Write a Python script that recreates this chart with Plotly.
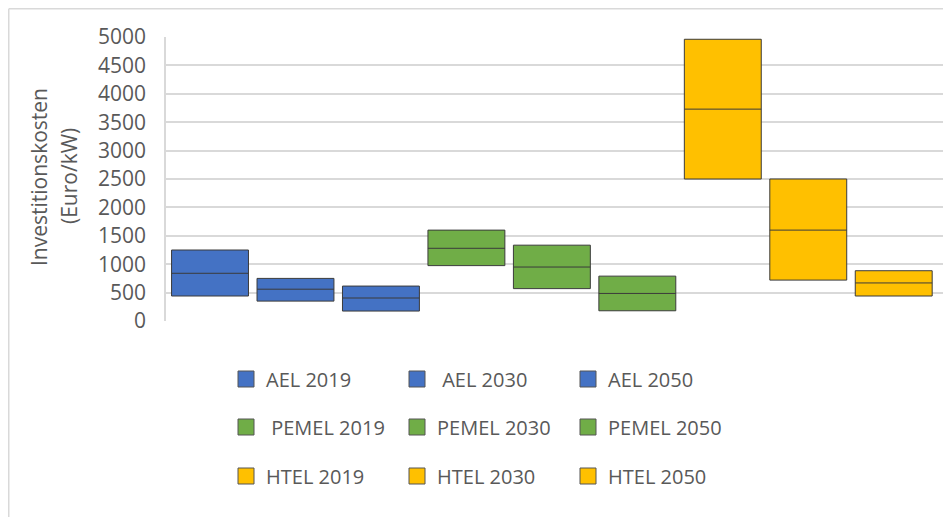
import plotly.graph_objects as go

# ---- data ----
names = ["AEL 2019", "\u00a0AEL 2030", "AEL 2050",
         "\u00a0PEMEL 2019", "PEMEL 2030", "PEMEL 2050",
         "HTEL 2019", "HTEL 2030", "HTEL 2050"]
low = [440, 350, 175, 975, 570, 180, 2500, 720, 440]
median = [840, 560, 405, 1280, 950, 485, 3730, 1600, 670]
high = [1250, 750, 615, 1600, 1335, 790, 4960, 2500, 885]
group = ["AEL"] * 3 + ["PEMEL"] * 3 + ["HTEL"] * 3
y_ticks = [0, 500, 1000, 1500, 2000, 2500, 3000, 3500, 4000, 4500, 5000]

colors = {"AEL": "#4472C4", "PEMEL": "#70AD47", "HTEL": "#FFC000"}
legend_ids = {"AEL": "legend", "PEMEL": "legend2", "HTEL": "legend3"}

FONT = "Open Sans"
TXT = "#595959"

OFF = 8  # page body margin
W, H = 951 - OFF, 517 - OFF
L, R, T, B = 166 - OFF, 6, 37 - OFF, 196
pw, ph = W - L - R, H - T - B

def px_x(x):  # x in reference-screen pixels
    return (x - OFF - L) / pw

def px_y(y):
    return (H - B - (y - OFF)) / ph

fig = go.Figure()
for i, n in enumerate(names):
    g = group[i]
    fig.add_trace(go.Box(
        x=[i], q1=[low[i]], median=[median[i]], q3=[high[i]],
        lowerfence=[low[i]], upperfence=[high[i]],
        name=n, width=0.9, whiskerwidth=0,
        fillcolor=colors[g],
        line=dict(color="#3b3b3b", width=1),
        showlegend=False,
        hoverinfo="name+y",
    ))
    # legend entry with a larger square swatch
    fig.add_trace(go.Scatter(
        x=[None], y=[None], mode="markers", name=n,
        marker=dict(symbol="square", size=20, color=colors[g],
                    line=dict(color="#555555", width=1)),
        legend=legend_ids[g], hoverinfo="skip",
    ))

leg_common = dict(orientation="h", xanchor="left", yanchor="middle",
                  entrywidth=126, font=dict(family=FONT, size=20, color=TXT),
                  bgcolor="rgba(0,0,0,0)", traceorder="normal",
                  itemsizing="trace")
lx = px_x(226)

fig.update_layout(
    width=W, height=H,
    margin=dict(l=L, r=R, t=T, b=B, pad=0),
    paper_bgcolor="white", plot_bgcolor="white",
    font=dict(family=FONT, color=TXT),
    showlegend=True,
    legend=dict(x=lx, y=px_y(379), **leg_common),
    legend2=dict(x=lx, y=px_y(427), **leg_common),
    legend3=dict(x=lx, y=px_y(476), **leg_common),
    xaxis=dict(range=[-0.515, 8.6], showticklabels=False, showgrid=False,
               zeroline=False, showline=False, fixedrange=True),
    yaxis=dict(range=[0, 5000], tickvals=y_ticks, showgrid=True,
               gridcolor="#D9D9D9", gridwidth=1.5, zeroline=False,
               showline=True, linecolor="#D9D9D9", linewidth=1.5,
               ticks="", ticklabelstandoff=14,
               tickfont=dict(family=FONT, size=21, color=TXT)),
    annotations=[
        dict(text="Investitionskosten", textangle=-90, xref="paper", yref="paper",
             x=px_x(39), y=px_y(177), showarrow=False, xanchor="center", yanchor="middle",
             font=dict(family=FONT, size=21, color=TXT)),
        dict(text="(Euro/kW)", textangle=-90, xref="paper", yref="paper",
             x=px_x(69), y=px_y(176), showarrow=False, xanchor="center", yanchor="middle",
             font=dict(family=FONT, size=21, color=TXT)),
    ],
    shapes=[
        dict(type="line", xref="paper", yref="paper", x0=px_x(8.75), x1=px_x(960),
             y0=px_y(8.75), y1=px_y(8.75), line=dict(color="#D9D9D9", width=1.5)),
        dict(type="line", xref="paper", yref="paper", x0=px_x(8.75), x1=px_x(8.75),
             y0=px_y(8.75), y1=px_y(530), line=dict(color="#D9D9D9", width=1.5)),
    ],
)

fig.write_html("out.html")
